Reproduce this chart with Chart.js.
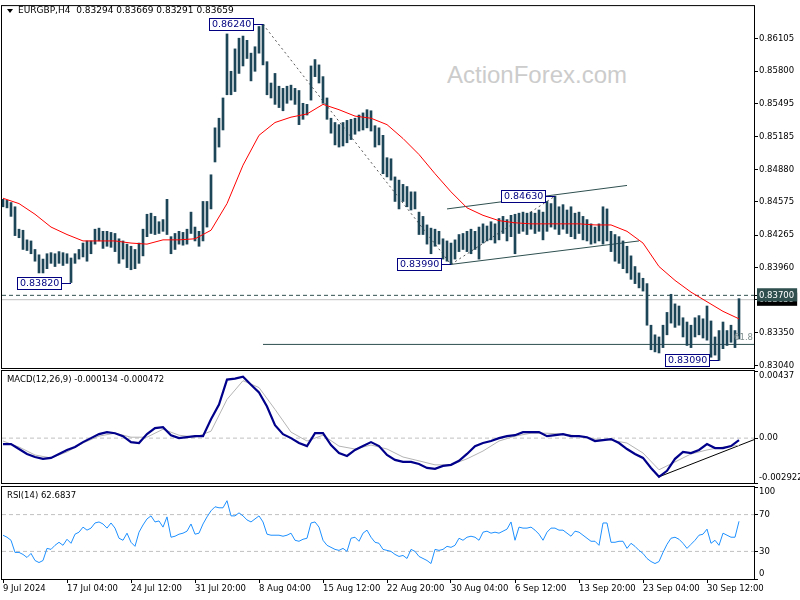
<!DOCTYPE html>
<html>
<head>
<meta charset="utf-8">
<title>EURGBP H4</title>
<script src="https://cdn.jsdelivr.net/npm/chart.js@4.4.1/dist/chart.umd.min.js"></script>
<style>
    body { margin: 0; background: #fff; }
    #wrap { position: relative; width: 800px; height: 600px; overflow: hidden; font-family: "DejaVu Sans", sans-serif; }
    #wrap canvas { position: absolute; left: 0; top: 0; }
    .txt { position: absolute; white-space: pre; color: #000; line-height: 10px; font-size: 8.5px; }
    #mark { position: absolute; left: 447px; top: 63px; font: 24px "Liberation Sans", sans-serif; line-height: 24px; color: #cccccc; }
    #tri { position: absolute; left: 7px; top: 9px; width: 0; height: 0;
           border-left: 3.5px solid transparent; border-right: 3.5px solid transparent; border-top: 4px solid #000; }
</style>
</head>
<body>
<div id="wrap">
    <div id="mark">ActionForex.com</div>
    <canvas id="priceChart" width="800" height="600"></canvas>
    <canvas id="macdChart" width="800" height="600"></canvas>
    <canvas id="rsiChart" width="800" height="600"></canvas>
    <div id="tri"></div>
    <div class="txt" style="left:18px;top:5px;font-size:9px;">EURGBP,H4  0.83294 0.83669 0.83291 0.83659</div>
    <div class="txt" style="left:7px;top:374px;">MACD(12,26,9) -0.000134 -0.000472</div>
    <div class="txt" style="left:7px;top:490px;">RSI(14) 62.6837</div>
</div>
<script>
// PRICE BARS (one bar every 4 px, high / low)
const barHigh = [
    0.8460, 0.8459, 0.8457, 0.8453, 0.8432, 0.8431, 0.8422, 0.8421, 0.8413, 0.8408,
    0.8404, 0.8409, 0.8410, 0.8409, 0.8411, 0.8410, 0.8409, 0.8405, 0.8409, 0.8413,
    0.8419, 0.8421, 0.8421, 0.8432, 0.8433, 0.8430, 0.8430, 0.8429, 0.8428, 0.8423,
    0.8421, 0.8418, 0.8416, 0.8413, 0.8419, 0.8432, 0.8446, 0.8447, 0.8444, 0.8439,
    0.8441, 0.8460, 0.8425, 0.8428, 0.8430, 0.8429, 0.8432, 0.8448, 0.8434, 0.8430,
    0.8458, 0.8458, 0.8483, 0.8527, 0.8536, 0.8555, 0.8615, 0.8580, 0.8601, 0.8611,
    0.8613, 0.8609, 0.8597, 0.8603, 0.8622, 0.8624, 0.8589, 0.8569, 0.8578, 0.8566,
    0.8564, 0.8566, 0.8567, 0.8564, 0.8562, 0.8550, 0.8549, 0.8585, 0.8591, 0.8586,
    0.8575, 0.8555, 0.8536, 0.8532, 0.8530, 0.8532, 0.8534, 0.8535, 0.8536, 0.8539,
    0.8541, 0.8544, 0.8543, 0.8529, 0.8527, 0.8520, 0.8499, 0.8498, 0.8481, 0.8478,
    0.8474, 0.8472, 0.8467, 0.8467, 0.8448, 0.8444, 0.8436, 0.8433, 0.8432, 0.8430,
    0.8423, 0.8421, 0.8419, 0.8422, 0.8427, 0.8428, 0.8430, 0.8432, 0.8430, 0.8434,
    0.8437, 0.8435, 0.8439, 0.8437, 0.8442, 0.8444, 0.8441, 0.8445, 0.8446, 0.8447,
    0.8448, 0.8447, 0.8448, 0.8447, 0.8450, 0.8448, 0.8458, 0.8456, 0.8463, 0.8453,
    0.8455, 0.8450, 0.8453, 0.8447, 0.8448, 0.8444, 0.8441, 0.8437, 0.8434, 0.8437,
    0.8453, 0.8451, 0.8430, 0.8427, 0.8425, 0.8421, 0.8416, 0.8407, 0.8397, 0.8391,
    0.8386, 0.8381, 0.8342, 0.8333, 0.8331, 0.8342, 0.8354, 0.8371, 0.8362, 0.8360,
    0.8349, 0.8345, 0.8342, 0.8349, 0.8351, 0.8348, 0.8360, 0.8346, 0.8331, 0.8337,
    0.8345, 0.8337, 0.8342, 0.8337, 0.83669
];
const barLow = [
    0.8453, 0.8452, 0.8444, 0.8426, 0.8424, 0.8413, 0.8412, 0.8409, 0.8402, 0.8391,
    0.8391, 0.8395, 0.8400, 0.8397, 0.8400, 0.8398, 0.8400, 0.8382, 0.8400, 0.8404,
    0.8406, 0.8402, 0.8409, 0.8418, 0.8421, 0.8414, 0.8416, 0.8415, 0.8411, 0.8400,
    0.8404, 0.8396, 0.8394, 0.8395, 0.8400, 0.8407, 0.8425, 0.8428, 0.8427, 0.8428,
    0.8430, 0.8427, 0.8409, 0.8413, 0.8418, 0.8417, 0.8418, 0.8428, 0.8421, 0.8416,
    0.8421, 0.8434, 0.8451, 0.8495, 0.8509, 0.8525, 0.8558, 0.8558, 0.8561, 0.8578,
    0.8585, 0.8592, 0.8571, 0.8580, 0.8597, 0.8586, 0.8558, 0.8555, 0.8549, 0.8546,
    0.8543, 0.8550, 0.8553, 0.8549, 0.8530, 0.8535, 0.8539, 0.8553, 0.8575, 0.8569,
    0.8550, 0.8535, 0.8522, 0.8511, 0.8509, 0.8510, 0.8513, 0.8516, 0.8521, 0.8524,
    0.8525, 0.8527, 0.8524, 0.8509, 0.8511, 0.8484, 0.8481, 0.8478, 0.8458, 0.8451,
    0.8458, 0.8453, 0.8450, 0.8451, 0.8427, 0.8427, 0.8418, 0.8409, 0.8416, 0.8418,
    0.8404, 0.8402, 0.8399, 0.8404, 0.8411, 0.8413, 0.8411, 0.8409, 0.8413, 0.8404,
    0.8419, 0.8421, 0.8422, 0.8419, 0.8422, 0.8428, 0.8421, 0.8425, 0.8409, 0.8428,
    0.8430, 0.8427, 0.8432, 0.8428, 0.8430, 0.8422, 0.8430, 0.8434, 0.8432, 0.8427,
    0.8432, 0.8428, 0.8425, 0.8423, 0.8428, 0.8422, 0.8421, 0.8418, 0.8419, 0.8421,
    0.8418, 0.8421, 0.8411, 0.8402, 0.8400, 0.8395, 0.8391, 0.8385, 0.8381, 0.8377,
    0.8374, 0.8342, 0.8319, 0.8317, 0.8316, 0.8321, 0.8333, 0.8344, 0.8340, 0.8342,
    0.8331, 0.8323, 0.8321, 0.8331, 0.8333, 0.8330, 0.8328, 0.8312, 0.8314, 0.8309,
    0.8320, 0.8323, 0.8326, 0.8321, 0.83291
];

// MOVING AVERAGE (red), one value every 4 bars
const maValues = [
    0.8461, 0.8456, 0.8446, 0.8434, 0.8427, 0.8421, 0.8421, 0.8421, 0.8419, 0.8418,
    0.8422, 0.8422, 0.8423, 0.8431, 0.8456, 0.8492, 0.8520, 0.8532, 0.8537, 0.8540,
    0.8549, 0.8544, 0.8538, 0.8536, 0.8530, 0.8517, 0.8502, 0.8484, 0.8467, 0.8452,
    0.8445, 0.8440, 0.8438, 0.8437, 0.8437, 0.8437, 0.8437, 0.8436, 0.8436, 0.8430,
    0.8419, 0.8397, 0.8384, 0.8373, 0.8364, 0.8355, 0.8348
];
const maStep = 4;

// MACD main line (every 2 bars) and signal line (every 4 bars)
const macdMain = [
    -0.00039, -0.00039, -0.00071, -0.00103, -0.00123, -0.00135, -0.00129, -0.00103, -0.00077, -0.00058,
    -0.00026, 0, 0.00026, 0.00039, 0.00032, 0.00013, -0.00026, -0.00032, 0.00026, 0.00065,
    0.00071, 0.00019, 0, 0.00006, 0.00013, 0.00013, 0.00123, 0.00219, 0.00381, 0.00387,
    0.00400, 0.00348, 0.00297, 0.00206, 0.00084, 0.00026, 0, -0.00032, -0.00052, 0.00032,
    0.00032, -0.00045, -0.00097, -0.00116, -0.00077, -0.00052, -0.00026, -0.00052, -0.00110, -0.00142,
    -0.00155, -0.00155, -0.00168, -0.00194, -0.00200, -0.00181, -0.00174, -0.00148, -0.00103, -0.00052,
    -0.00032, -0.00019, 0, 0.00013, 0.00019, 0.00039, 0.00039, 0.00039, 0.00013, 0.00019,
    0.00026, 0.00013, 0.00013, 0.00006, -0.00019, -0.00013, -0.00006, -0.00032, -0.00071, -0.00103,
    -0.00129, -0.00194, -0.00252, -0.00213, -0.00135, -0.00090, -0.00097, -0.00077, -0.00039, -0.00065,
    -0.00065, -0.00052, -0.00013
];
const macdStep = 2;
const macdSignal = [
    -0.00019, -0.00058, -0.00110, -0.00129, -0.00090, -0.00032, 0.00013, 0.00032, 0.00006, 0.00006,
    0.00058, 0.00019, 0.00006, 0.00045, 0.00252, 0.00374, 0.00329, 0.00187, 0.00039, -0.00019,
    0.00019, -0.00052, -0.00071, -0.00045, -0.00071, -0.00123, -0.00148, -0.00174, -0.00174, -0.00135,
    -0.00084, -0.00019, 0.00013, 0.00032, 0.00032, 0.00026, 0.00013, -0.00006, -0.00013, -0.00032,
    -0.00097, -0.00206, -0.00155, -0.00103, -0.00077, -0.00058, -0.00047
];
const signalStep = 4;
const macdMin = -0.002922;
const macdMax = 0.00437;

// RSI(14), one value per bar
const rsiValues = [
    47.6, 45.4, 42.1, 28.9, 28.9, 26.7, 23.4, 27.8, 20.1, 17.9,
    20.1, 33.3, 32.2, 36.6, 39.9, 36.6, 43.2, 38.8, 48.7, 50.9,
    56.4, 53.1, 55.3, 60.9, 62.0, 59.8, 55.3, 60.9, 55.3, 44.3,
    42.1, 49.8, 39.9, 35.5, 50.9, 58.7, 65.3, 68.6, 62.0, 63.1,
    56.4, 67.5, 45.4, 46.5, 48.7, 49.8, 52.0, 59.8, 48.7, 49.8,
    59.8, 67.5, 74.1, 78.5, 77.4, 77.4, 85.1, 68.6, 68.6, 71.9,
    68.6, 64.2, 62.0, 65.3, 68.6, 62.0, 48.7, 47.6, 47.6, 47.6,
    46.5, 47.6, 49.8, 42.1, 41.0, 43.2, 44.3, 60.9, 62.0, 56.4,
    42.1, 36.6, 34.4, 32.2, 31.1, 33.3, 30.0, 44.3, 45.4, 41.0,
    49.8, 53.1, 45.4, 39.9, 38.8, 32.2, 31.1, 30.0, 26.7, 24.5,
    25.6, 22.3, 32.2, 30.0, 24.5, 22.3, 20.1, 16.8, 32.2, 31.1,
    32.2, 35.5, 34.4, 36.6, 44.3, 42.1, 45.4, 46.5, 45.4, 42.1,
    50.9, 52.0, 49.8, 50.9, 49.8, 52.0, 54.2, 62.0, 42.1, 56.4,
    55.3, 55.3, 56.4, 53.1, 48.7, 42.1, 50.9, 55.3, 55.3, 53.1,
    53.1, 49.8, 46.5, 52.0, 50.9, 47.6, 44.3, 41.0, 41.0, 36.6,
    60.9, 60.9, 39.9, 39.9, 41.0, 41.0, 33.3, 38.8, 35.5, 31.1,
    27.8, 22.3, 19.0, 16.8, 19.0, 28.9, 37.7, 44.3, 45.4, 43.2,
    38.8, 33.3, 37.7, 42.1, 47.6, 48.7, 54.2, 38.8, 42.1, 36.6,
    49.8, 47.6, 45.4, 45.4, 62.7
];

// AXIS LABELS
const timeLabels = ["9 Jul 2024", "17 Jul 04:00", "24 Jul 12:00", "31 Jul 20:00", "8 Aug 04:00", "15 Aug 12:00",
                    "22 Aug 20:00", "30 Aug 04:00", "6 Sep 12:00", "13 Sep 20:00", "23 Sep 04:00", "30 Sep 12:00"];
const timeLabelBars = [0, 16, 32, 48, 64, 80, 96, 112, 128, 144, 160, 176];
const priceTicks = [0.83040, 0.83350, 0.83960, 0.84265, 0.84575, 0.84880, 0.85185, 0.85495, 0.85800, 0.86105];
const rsiTicks = [0, 30, 70, 100];

// LEVELS AND DRAWN OBJECTS
const bidPrice = 0.83659;
const alertLevel = 0.83700;
const fibLevel = 0.83240;
const swingLabels = [
    { bar: 65, price: 0.86240 },
    { bar: 17, price: 0.83820 },
    { bar: 112, price: 0.83990 },
    { bar: 138, price: 0.84630 },
    { bar: 179, price: 0.83090 }
];
const trendLines = [
    { from: [65, 0.86240], to: [112, 0.83990], color: "#555", dash: [2, 3] },
    { from: [112, 0.83990], to: [138, 0.84630], color: "#555", dash: [2, 3] },
    { from: [111, 0.84510], to: [156, 0.84730], color: "#2f4f4f" },
    { from: [112, 0.83990], to: [159, 0.84210], color: "#2f4f4f" },
    { from: [65, fibLevel], to: [187.75, fibLevel], color: "#2f4f4f" }
];
const macdTrend = { from: [164, -0.00252], to: [187.75, -0.0001] };

const BAR_MIN = -0.25;
const BAR_MAX = 187.75;

Chart.defaults.font.family = "DejaVu Sans";
Chart.defaults.font.size = 8.5;
Chart.defaults.color = "#000";

function segment(from, to, color, dash, width) {
    return {
        type: "line",
        data: [{ x: from[0], y: from[1] }, { x: to[0], y: to[1] }],
        borderColor: color,
        borderWidth: width || 1,
        borderDash: dash || [],
        pointRadius: 0,
        order: 3
    };
}

// black frame round each panel
const framePlugin = {
    id: "frame",
    afterDraw(chart) {
        const a = chart.chartArea, ctx = chart.ctx;
        ctx.save();
        ctx.strokeStyle = "#000";
        ctx.lineWidth = 1;
        ctx.strokeRect(a.left - 0.5, a.top - 0.5, a.right - a.left + 1, a.bottom - a.top + 1);
        ctx.restore();
    }
};

// swing high / low price boxes and the 61.8 tag
const swingPlugin = {
    id: "swings",
    afterDatasetsDraw(chart) {
        const ctx = chart.ctx, xs = chart.scales.x, ys = chart.scales.y;
        ctx.save();
        ctx.font = '9.5px "DejaVu Sans"';
        ctx.textBaseline = "middle";
        swingLabels.forEach(s => {
            const ax = Math.round(xs.getPixelForValue(s.bar));
            const ay = Math.round(ys.getPixelForValue(s.price));
            const text = s.price.toFixed(5);
            const w = Math.ceil(ctx.measureText(text).width) + 5;
            const right = ax - 9;
            const bx = right - w, by = ay - 6;
            ctx.fillStyle = "#fff";
            ctx.fillRect(bx, by, w, 13);
            ctx.strokeStyle = "#000080";
            ctx.lineWidth = 1;
            ctx.strokeRect(bx + 0.5, by + 0.5, w - 1, 12);
            ctx.beginPath();
            ctx.moveTo(right, ay + 0.5);
            ctx.lineTo(ax, ay + 0.5);
            ctx.stroke();
            ctx.fillStyle = "#000080";
            ctx.fillText(text, bx + 3, ay + 1);
        });
        ctx.font = '8.5px "DejaVu Sans"';
        ctx.fillStyle = "#7d8b8b";
        ctx.textAlign = "right";
        ctx.textBaseline = "bottom";
        ctx.fillText("61.8", chart.chartArea.right - 1, ys.getPixelForValue(fibLevel) - 2);
        ctx.restore();
    }
};

function barAxis(show) {
    const axis = {
        type: "linear",
        min: BAR_MIN,
        max: BAR_MAX,
        offset: false,
        display: show,
        grid: { drawOnChartArea: false, drawTicks: true, tickLength: 4, color: "#000" },
        border: { display: false },
        afterBuildTicks: s => { s.ticks = timeLabelBars.map(v => ({ value: v })); },
        ticks: {
            align: "start",
            maxRotation: 0,
            minRotation: 0,
            autoSkip: false,
            padding: 1,
            callback: (v, i) => timeLabels[i]
        }
    };
    if (show) axis.afterFit = s => { s.height = 21; };
    return axis;
}

function rightAxis(min, max, values, labelFor, tickExtra) {
    return {
        type: "linear",
        position: "right",
        min: min,
        max: max,
        grid: { drawOnChartArea: false, drawTicks: true, tickLength: 4, color: "#000" },
        border: { display: false },
        afterBuildTicks: s => { s.ticks = values.map(v => ({ value: v })); },
        afterFit: s => { s.width = 46; },
        ticks: Object.assign({ padding: 1, autoSkip: false, callback: labelFor }, tickExtra || {})
    };
}

const common = {
    responsive: false,
    animation: false,
    events: [],
    plugins: { legend: { display: false }, tooltip: { enabled: false } }
};

// PRICE PANEL
const isTag = v => v === bidPrice || v === alertLevel;
new Chart(document.getElementById("priceChart"), {
    type: "bar",
    data: {
        datasets: [
            {
                type: "bar",
                data: barHigh.map((h, i) => ({ x: i, y: [barLow[i], h] })),
                backgroundColor: "#1d4659",
                barThickness: 2,
                grouped: false,
                order: 2
            },
            {
                type: "line",
                data: maValues.map((v, k) => ({ x: k * maStep, y: v })),
                borderColor: "#ff0000",
                borderWidth: 1,
                pointRadius: 0,
                order: 1
            },
            segment([BAR_MIN, alertLevel], [BAR_MAX, alertLevel], "#2f4f4f", [4, 3]),
            segment([BAR_MIN, bidPrice], [BAR_MAX, bidPrice], "#c0c0c0"),
            ...trendLines.map(t => segment(t.from, t.to, t.color, t.dash))
        ]
    },
    options: Object.assign({}, common, {
        layout: { padding: { top: 2, left: 2, right: 0, bottom: 232 } },
        scales: {
            x: barAxis(false),
            y: rightAxis(0.83019, 0.86411, priceTicks.concat([bidPrice, alertLevel]), v => v.toFixed(5), {
                color: c => isTag(c.tick.value) ? "#fff" : "#000",
                showLabelBackdrop: c => isTag(c.tick.value),
                backdropColor: c => c.tick.value === alertLevel ? "#2f4f4f" : "#000",
                backdropPadding: { top: 2, bottom: 1, left: 2, right: 3 }
            })
        }
    }),
    plugins: [framePlugin, swingPlugin]
});

// MACD PANEL
new Chart(document.getElementById("macdChart"), {
    type: "line",
    data: {
        datasets: [
            segment([BAR_MIN, 0], [BAR_MAX, 0], "#c0c0c0", [4, 3]),
            {
                data: macdSignal.map((v, k) => ({ x: k * signalStep, y: v })),
                borderColor: "#b4b4b4",
                borderWidth: 1,
                pointRadius: 0,
                order: 2
            },
            {
                data: macdMain.map((v, k) => ({ x: k * macdStep, y: v })),
                borderColor: "#00008b",
                borderWidth: 2.2,
                pointRadius: 0,
                order: 1
            },
            segment(macdTrend.from, macdTrend.to, "#000")
        ]
    },
    options: Object.assign({}, common, {
        layout: { padding: { top: 371, left: 2, right: 0, bottom: 117 } },
        scales: {
            x: barAxis(false),
            y: rightAxis(macdMin, macdMax, [macdMin, 0, macdMax], v => {
                if (v === macdMax) return ["", v.toFixed(5)];
                if (v === macdMin) return [v.toFixed(6), ""];
                return "0.00";
            })
        }
    }),
    plugins: [framePlugin]
});

// RSI PANEL
new Chart(document.getElementById("rsiChart"), {
    type: "line",
    data: {
        datasets: [
            segment([BAR_MIN, 70], [BAR_MAX, 70], "#c0c0c0", [4, 3]),
            segment([BAR_MIN, 30], [BAR_MAX, 30], "#c0c0c0", [4, 3]),
            {
                data: rsiValues.map((v, i) => ({ x: i, y: v })),
                borderColor: "#1e90ff",
                borderWidth: 1,
                pointRadius: 0,
                order: 1
            }
        ]
    },
    options: Object.assign({}, common, {
        layout: { padding: { top: 487, left: 2, right: 0, bottom: 0 } },
        scales: {
            x: barAxis(true),
            y: rightAxis(0, 100, rsiTicks, v => {
                if (v === 100) return ["", "100"];
                if (v === 0) return ["0", ""];
                return String(v);
            })
        }
    }),
    plugins: [framePlugin]
});
</script>
</body>
</html>
